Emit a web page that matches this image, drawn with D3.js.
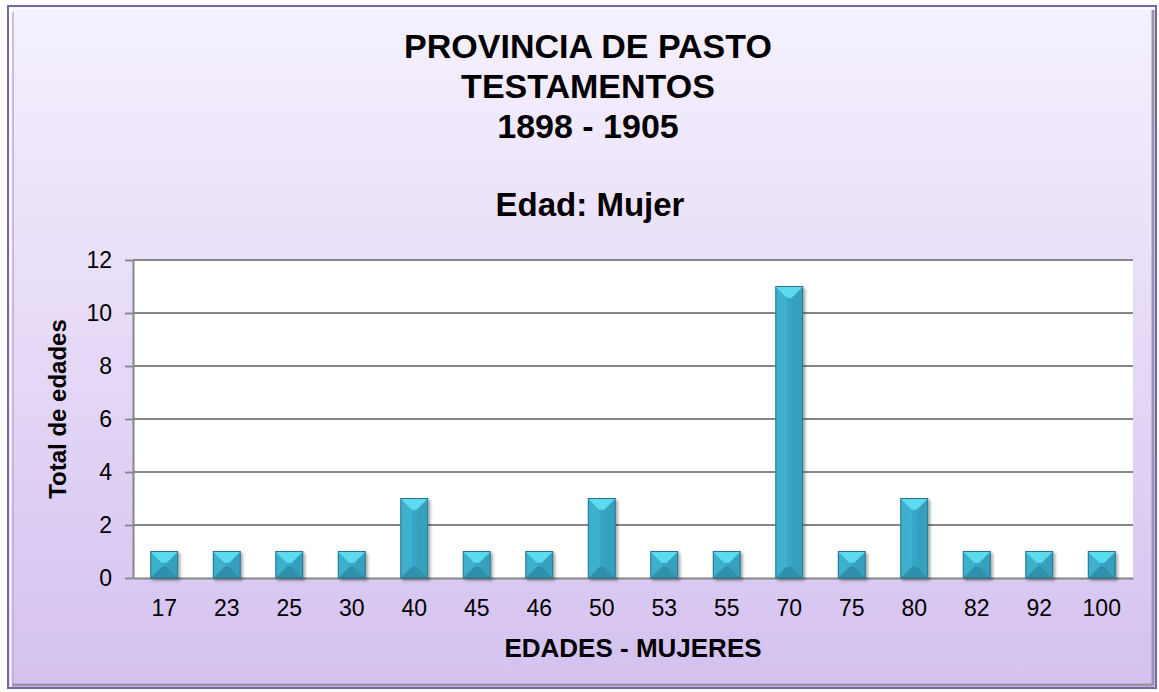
<html>
	<head>
		<meta charset="utf-8" />
		<script src="https://d3js.org/d3.v7.min.js"></script>
		<style>
			body { margin:0; background:#ffffff; }
			svg text { font-family: Arial, "Liberation Sans", sans-serif; }
		</style>
	</head>
	<body>
		<svg width="1159" height="692"></svg>

		<script type="text/javascript">

			// datos del grafico
			var edades = ["17","23","25","30","40","45","46","50","53","55","70","75","80","82","92","100"];
			var totales = [1,1,1,1,3,1,1,3,1,1,11,1,3,1,1,1];
			var ticksY = [0,2,4,6,8,10,12];
			var titulo = ["PROVINCIA DE PASTO","TESTAMENTOS","1898 - 1905"];
			var subtitulo = "Edad: Mujer";
			var tituloX = "EDADES - MUJERES";
			var tituloY = "Total de edades";

			var svg = d3.select("svg");
			var defs = svg.append("defs");

			// degradado de fondo
			var fondo = defs.append("linearGradient").attr("id","fondo")
							.attr("x1",0).attr("y1",0).attr("x2",0).attr("y2",1);
			fondo.append("stop").attr("offset","0%").attr("stop-color","#f5f1fd");
			fondo.append("stop").attr("offset","40%").attr("stop-color","#e9def9");
			fondo.append("stop").attr("offset","100%").attr("stop-color","#d4c1ef");

			var sombra = defs.append("filter").attr("id","sombra")
							.attr("x","-30%").attr("y","-30%").attr("width","160%").attr("height","160%");
			sombra.append("feGaussianBlur").attr("in","SourceAlpha").attr("stdDeviation",1.6);
			sombra.append("feOffset").attr("dx",2).attr("dy",2).attr("result","off");
			sombra.append("feComponentTransfer").append("feFuncA").attr("type","linear").attr("slope",0.35);
			var merge = sombra.append("feMerge");
			merge.append("feMergeNode");
			merge.append("feMergeNode").attr("in","SourceGraphic");

			// marco del grafico
			svg.append("rect").attr("x",8).attr("y",6).attr("width",1148).attr("height",682)
				.attr("fill","url(#fondo)").attr("stroke","#7a63ad").attr("stroke-width",2);
			svg.append("rect").attr("x",10.5).attr("y",8.5).attr("width",1143).attr("height",677)
				.attr("fill","none").attr("stroke","#ffffff").attr("stroke-opacity",0.8).attr("stroke-width",2);
			svg.append("line").attr("x1",1153).attr("y1",10).attr("x2",1153).attr("y2",686)
				.attr("stroke","#9b93a8").attr("stroke-width",3);
			svg.append("line").attr("x1",12).attr("y1",685).attr("x2",1153).attr("y2",685)
				.attr("stroke","#9b93a8").attr("stroke-width",3);
			svg.append("line").attr("x1",13).attr("y1",12).attr("x2",13).attr("y2",684)
				.attr("stroke","#b8b0c8").attr("stroke-width",1.5);

			// area del grafico
			var izq = 133, der = 1133, arriba = 260, abajo = 578;

			var x = d3.scaleBand().domain(edades).range([izq,der]).paddingInner(0.57).paddingOuter(0.285);
			var y = d3.scaleLinear().domain([0,12]).range([abajo,arriba]);

			svg.append("rect").attr("x",izq).attr("y",arriba).attr("width",der-izq).attr("height",abajo-arriba)
				.attr("fill","#ffffff");

			// lineas de division
			svg.selectAll(".grid").data(ticksY.slice(1)).enter().append("line")
				.attr("class","grid")
				.attr("x1",izq).attr("x2",der)
				.attr("y1",function(d) {return y(d)})
				.attr("y2",function(d) {return y(d)})
				.attr("stroke","#868686").attr("stroke-width",1.8);

			// eje Y
			var ejeY = svg.append("g").attr("transform","translate("+izq+",0)")
				.call(d3.axisLeft(y).tickValues(ticksY).tickSize(8).tickPadding(13).tickSizeOuter(0));
			ejeY.select(".domain").attr("stroke","#868686").attr("stroke-width",2);
			ejeY.selectAll(".tick line").attr("stroke","#868686").attr("stroke-width",1.8);
			ejeY.selectAll("text").attr("font-size",23).attr("fill","#000").attr("font-family","Arial, 'Liberation Sans', sans-serif");

			// eje X
			var ejeX = svg.append("g").attr("transform","translate(0,"+abajo+")")
				.call(d3.axisBottom(x).tickSize(0).tickPadding(22).tickSizeOuter(0));
			ejeX.select(".domain").attr("stroke","#868686").attr("stroke-width",2);
			ejeX.selectAll("text").attr("font-size",23).attr("fill","#000").attr("font-family","Arial, 'Liberation Sans', sans-serif");

			// barras con bisel (piramide)
			var barras = svg.selectAll(".barra").data(totales).enter().append("g")
				.attr("class","barra").attr("filter","url(#sombra)");

			function caras(d,i) {
				var x0 = x(edades[i]), x1 = x0 + x.bandwidth();
				var y0 = y(d), y1 = y(0);
				var b = Math.min(x.bandwidth()/2, (y1-y0)/2, 11);
				return [
					{p:[[x0+b,y0+b],[x1-b,y0+b],[x1-b,y1-b],[x0+b,y1-b]], c:"#37a7c6"},
					{p:[[x0,y0],[x0+b,y0+b],[x0+b,y1-b],[x0,y1]], c:"#3db0ce"},
					{p:[[x1,y0],[x1,y1],[x1-b,y1-b],[x1-b,y0+b]], c:"#34a1bf"},
					{p:[[x0,y1],[x0+b,y1-b],[x1-b,y1-b],[x1,y1]], c:"#2d90ab"},
					{p:[[x0,y0],[x1,y0],[x1-b,y0+b],[x0+b,y0+b]], c:"#5cdaee"}
				];
			}

			barras.each(function(d,i) {
				var g = d3.select(this);
				g.selectAll("polygon").data(caras(d,i)).enter().append("polygon")
					.attr("points",function(c) {return c.p.map(function(p) {return p.join(",")}).join(" ")})
					.attr("fill",function(c) {return c.c})
					.attr("stroke",function(c) {return c.c})
					.attr("stroke-width",0.5);
				g.append("rect")
					.attr("x",x(edades[i])).attr("y",y(d))
					.attr("width",x.bandwidth()).attr("height",y(0)-y(d))
					.attr("fill","none").attr("stroke","#2a7388").attr("stroke-width",1);
			});

			// titulos
			svg.selectAll(".titulo").data(titulo).enter().append("text")
				.attr("class","titulo")
				.attr("x",588)
				.attr("y",function(d,i) {return 58 + i*40})
				.attr("text-anchor","middle").attr("font-size",34).attr("font-weight","bold")
				.text(function(d) {return d});

			svg.append("text").attr("x",590).attr("y",216)
				.attr("text-anchor","middle").attr("font-size",33).attr("font-weight","bold")
				.text(subtitulo);

			svg.append("text").attr("x",(izq+der)/2).attr("y",657)
				.attr("text-anchor","middle").attr("font-size",26).attr("font-weight","bold")
				.text(tituloX);

			svg.append("text").attr("transform","translate(66,409) rotate(-90)")
				.attr("text-anchor","middle").attr("font-size",24).attr("font-weight","bold")
				.text(tituloY);

		</script>
	</body>
</html>
